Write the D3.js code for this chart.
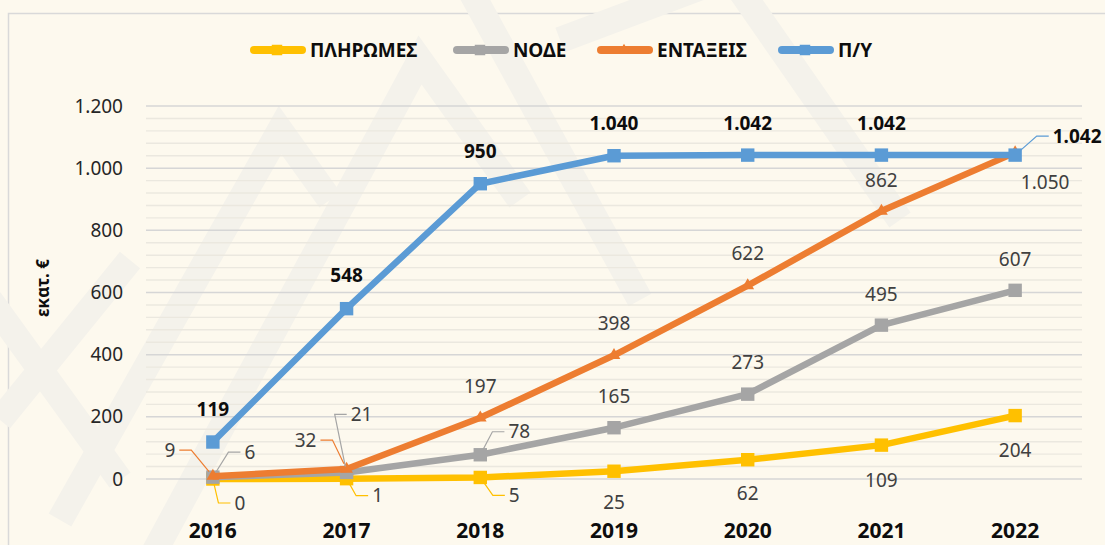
<!DOCTYPE html>
<html lang="el">
<head>
<meta charset="utf-8">
<title>Π/Υ, εντάξεις, ΝΟΔΕ, πληρωμές</title>
<script src="https://cdn.jsdelivr.net/npm/d3@7"></script>
<style>
  body { margin: 0; background: #fdf9ee; }
  svg { display: block; font-family: "Noto Sans", "Open Sans", sans-serif; }
</style>
</head>
<body>
<svg id="chart" width="1105" height="545"></svg>
<script>
// data (εκατ. €)
const years = ["2016", "2017", "2018", "2019", "2020", "2021", "2022"];
const seriesNames = ["ΠΛΗΡΩΜΕΣ", "ΝΟΔΕ", "ΕΝΤΑΞΕΙΣ", "Π/Υ"];
const payments = [0, 1, 5, 25, 62, 109, 204];
const node = [6, 21, 78, 165, 273, 495, 607];
const entaxeis = [9, 32, 197, 398, 622, 862, 1050];
const budget = [119, 548, 950, 1040, 1042, 1042, 1042];
const yTicks = [0, 200, 400, 600, 800, 1000, 1200];
const colors = ["#ffc000", "#a5a5a5", "#ed7d31", "#5b9bd5"];

const series = [
  { name: seriesNames[0], values: payments, color: colors[0], marker: d3.symbolSquare, bold: false },
  { name: seriesNames[1], values: node, color: colors[1], marker: d3.symbolSquare, bold: false },
  { name: seriesNames[2], values: entaxeis, color: colors[2], marker: d3.symbolTriangle, bold: false },
  { name: seriesNames[3], values: budget, color: colors[3], marker: d3.symbolSquare, bold: true }
];

// label placement (text centre relative to the point), leader lines where Excel moved them
const labelOffsets = [
  [[27, 24, 1], [31, 17, 1], [34, 18, 1], [0, 31], [0, 34], [0, 35], [0, 35]],
  [[37, -25, 1], [15, -58, 1], [39, -23, 1], [0, -31], [0, -32], [0, -31], [0, -31]],
  [[-43, -26, 1], [-41, -29, 1], [0, -31], [0, -32], [0, -32], [0, -31], [30, 30]],
  [[0, -33], [0, -33], [0, -32], [0, -32], [0, -32], [0, -32], [62, -19, 1]]
];

const greek = d3.formatLocale({ decimal: ",", thousands: ".", grouping: [3], currency: ["", "€"] });
const fmt = greek.format(",d");

const svg = d3.select("#chart");
const margin = { left: 146, right: 23, top: 106, bottom: 66 };
const width = 1105, height = 545;

let x = d3.scaleBand()
  .domain(years)
  .range([margin.left, width - margin.right]);
let y = d3.scaleLinear()
  .domain([0, 1200])
  .range([height - margin.bottom, margin.top]);

// chart area background + border
svg.append("rect")
  .attr("width", width).attr("height", height)
  .attr("fill", "#fdf9ee");
svg.append("rect")
  .attr("x", 8.5).attr("y", 13.5)
  .attr("width", width + 10).attr("height", height + 10)
  .attr("fill", "none")
  .attr("stroke", "#d9d9d9")
  .attr("stroke-width", 1.5);

// faint watermark, drawn as strokes so it is not read as chart text
const wm = svg.append("g")
  .attr("fill", "none")
  .attr("stroke", "#f4f2eb")
  .attr("stroke-width", 26)
  .attr("stroke-linejoin", "miter");
wm.append("path").attr("d", "M60,520 L280,130 L330,200");
wm.append("path").attr("d", "M150,560 L420,60 L520,200");
wm.append("path").attr("d", "M470,-10 L640,300 M560,40 L720,-20");
wm.append("path").attr("d", "M740,-10 L900,220");
wm.append("path").attr("d", "M0,420 L130,260 M-10,300 L120,480");

// gridlines: minor every 40, major every 200
const minor = d3.range(40, 1200, 40).filter(v => v % 200 !== 0);
svg.append("g")
  .selectAll("line")
  .data(minor).enter()
  .append("line")
  .attr("x1", margin.left).attr("x2", width - margin.right)
  .attr("y1", d => y(d)).attr("y2", d => y(d))
  .attr("stroke", "#ebe8df")
  .attr("stroke-width", 1.4);

svg.append("g")
  .selectAll("line")
  .data(yTicks).enter()
  .append("line")
  .attr("x1", margin.left).attr("x2", width - margin.right)
  .attr("y1", d => y(d)).attr("y2", d => y(d))
  .attr("stroke", "#d6d6d6")
  .attr("stroke-width", 1.5);

// y axis labels
let yAxis = d3.axisLeft(y).tickValues(yTicks).tickFormat(fmt).tickSize(0).tickPadding(0);
svg.append("g")
  .attr("transform", `translate(${margin.left - 23},0)`)
  .call(yAxis)
  .call(g => g.select(".domain").remove())
  .selectAll("text")
  .attr("font-family", "Noto Sans, sans-serif")
  .attr("font-size", 19)
  .attr("fill", "#262626");

// x axis labels
let xAxis = d3.axisBottom(x).tickSize(0).tickPadding(0);
svg.append("g")
  .attr("transform", `translate(0,${height - 7})`)
  .call(xAxis)
  .call(g => g.select(".domain").remove())
  .selectAll("text")
  .attr("font-family", "Noto Sans, sans-serif")
  .attr("font-size", 21)
  .attr("font-weight", "bold")
  .attr("fill", "#0d0d0d")
  .attr("dy", "0");

// y axis title
svg.append("text")
  .attr("transform", "translate(43,288) rotate(-90)")
  .attr("text-anchor", "middle")
  .attr("dy", "0.35em")
  .attr("font-size", 17)
  .attr("font-weight", "bold")
  .attr("fill", "#0d0d0d")
  .text("εκατ. €");

const cx = (d, i) => x(years[i]) + x.bandwidth() / 2;
let line = d3.line()
  .x((d, i) => cx(d, i))
  .y(d => y(d));

// series lines and markers
series.forEach(s => {
  svg.append("path")
    .datum(s.values)
    .attr("d", line)
    .attr("fill", "none")
    .attr("stroke", s.color)
    .attr("stroke-width", 6.5)
    .attr("stroke-linejoin", "round");

  svg.append("g")
    .selectAll("path")
    .data(s.values).enter()
    .append("path")
    .attr("transform", (d, i) => `translate(${cx(d, i)},${y(d)})`)
    .attr("d", d3.symbol().type(s.marker).size(s.marker === d3.symbolTriangle ? 70 : 180))
    .attr("fill", s.color);
});

// data labels
series.forEach((s, k) => {
  s.values.forEach((v, i) => {
    const [dx, dy, leader] = labelOffsets[k][i];
    const px = cx(v, i), py = y(v);
    const tx = px + dx, ty = py + dy;
    const t = svg.append("text")
      .attr("x", tx).attr("y", ty)
      .attr("text-anchor", "middle")
      .attr("dy", "0.35em")
      .attr("font-size", 19)
      .attr("font-weight", s.bold ? "bold" : "normal")
      .attr("fill", s.bold ? "#0d0d0d" : "#404040")
      .text(fmt(v));
    if (leader) {
      const hw = t.node().getComputedTextLength() / 2;
      const sgn = dx < 0 ? -1 : 1;
      const ex = tx - sgn * (hw + 4);
      const elbow = [ex - sgn * 12, ty];
      const ang = Math.atan2(elbow[1] - py, elbow[0] - px);
      const start = [px + 6 * Math.cos(ang), py + 6 * Math.sin(ang)];
      svg.append("path")
        .attr("d", d3.line()([start, elbow, [ex, ty]]))
        .attr("fill", "none")
        .attr("stroke", s.color)
        .attr("stroke-width", 1.2);
    }
  });
});

// legend
const legendX = [250, 453, 597, 778];
const legend = svg.append("g").attr("transform", "translate(0,50)");
series.forEach((s, k) => {
  const g = legend.append("g").attr("transform", `translate(${legendX[k]},0)`);
  g.append("line")
    .attr("x1", 4).attr("x2", 52)
    .attr("stroke", s.color)
    .attr("stroke-width", 8)
    .attr("stroke-linecap", "round");
  g.append("path")
    .attr("transform", "translate(27,0)")
    .attr("d", d3.symbol().type(s.marker).size(s.marker === d3.symbolTriangle ? 50 : 110))
    .attr("fill", s.color);
  g.append("text")
    .attr("x", 60)
    .attr("dy", "0.35em")
    .attr("font-size", 19)
    .attr("font-weight", "bold")
    .attr("fill", "#0d0d0d")
    .text(s.name);
});
</script>
</body>
</html>
